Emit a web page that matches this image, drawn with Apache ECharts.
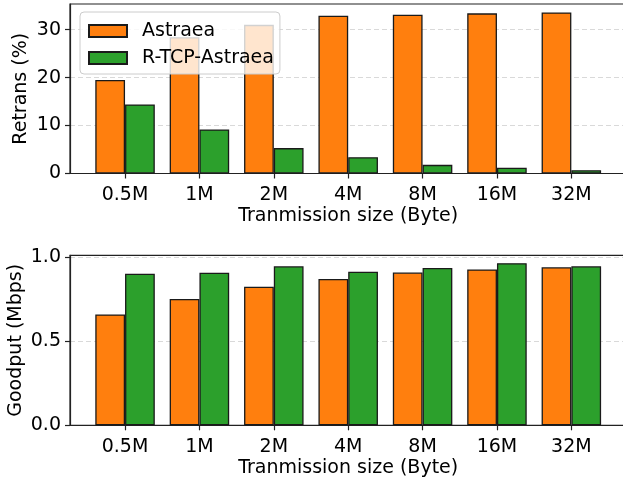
<!DOCTYPE html>
<html>
<head>
<meta charset="utf-8">
<script src="https://cdn.jsdelivr.net/npm/echarts@6/dist/echarts.min.js"></script>
<style>
html,body{margin:0;padding:0;background:#fff;}
#chart{width:623px;height:482px;}
</style>
</head>
<body>
<div id="chart"></div>
<script>
const categories = ['0.5M', '1M', '2M', '4M', '8M', '16M', '32M'];
const seriesNames = ['Astraea', 'R-TCP-Astraea'];
const retransAstraea = [19.5, 28.4, 31.0, 32.9, 33.1, 33.4, 33.6];
const retransRTCP = [14.4, 9.2, 5.3, 3.4, 1.8, 1.2, 0.7];
const goodputAstraea = [0.658, 0.750, 0.823, 0.869, 0.907, 0.925, 0.938];
const goodputRTCP = [0.900, 0.905, 0.944, 0.911, 0.934, 0.962, 0.944];
const retransTicks = [0, 10, 20, 30];
const goodputTicks = [0, 0.5, 1.0];
const xTitle = 'Tranmission size (Byte)';
const yTitleTop = 'Retrans (%)';
const yTitleBottom = 'Goodput (Mbps)';

const FONT = 'DejaVu Sans';
const FS = 19;
const colors = ['#ff7f0e', '#2ca02c'];
const idx = categories.map((_, i) => i);
const xMin = -0.74, xMax = categories.length - 1 + 0.74;
const gridLeft = 70, gridWidth = 556.4;
const unitPx = gridWidth / (xMax - xMin);
const barW = 0.4 * unitPx;

function xAxis(gridIndex) {
  return {
    type: 'value', gridIndex, min: xMin, max: xMax,
    name: xTitle, nameLocation: 'middle', nameGap: 33, nameMoveOverlap: false,
    nameTextStyle: { fontFamily: FONT, fontSize: FS, color: '#000' },
    axisLine: { show: true, onZero: false, lineStyle: { color: '#222', width: 1.2 } },
    axisTick: { show: true, customValues: idx, length: 5, lineStyle: { color: '#222', width: 1.2 } },
    axisLabel: { customValues: idx, margin: 12, fontFamily: FONT, fontSize: FS, color: '#000',
      formatter: v => categories[Math.round(v)] },
    splitLine: { show: false }
  };
}
function yAxis(gridIndex, max, ticks, name, gap, fmt) {
  return {
    type: 'value', gridIndex, min: 0, max,
    name, nameLocation: 'middle', nameGap: gap, nameMoveOverlap: false,
    nameTextStyle: { fontFamily: FONT, fontSize: FS, color: '#000' },
    axisLine: { show: true, onZero: false, lineStyle: { color: '#222', width: 1.2 } },
    axisTick: { show: true, customValues: ticks, length: 5, lineStyle: { color: '#222', width: 1.2 } },
    axisLabel: { customValues: ticks, margin: 9, fontFamily: FONT, fontSize: FS, color: '#000', formatter: fmt },
    splitLine: { show: true, lineStyle: { color: '#d9d9d9', type: [5, 3], width: 1 } }
  };
}
function bars(name, data, color, gi) {
  return {
    type: 'bar', name, xAxisIndex: gi, yAxisIndex: gi,
    data: data.map((v, i) => [i, v]),
    barWidth: barW, barGap: '0%',
    itemStyle: { color, borderColor: '#1a1a1a', borderWidth: 1.3 },
    emphasis: { disabled: true }, animation: false
  };
}

const chart = echarts.init(document.getElementById('chart'), null, { renderer: 'canvas' });
chart.setOption({
  animation: false,
  backgroundColor: '#fff',
  grid: [
    { left: gridLeft, top: 4, width: gridWidth, height: 169.5, show: true, borderColor: '#222', borderWidth: 1.2, backgroundColor: 'transparent', containLabel: false, outerBoundsMode: 'none' },
    { left: gridLeft, top: 255.3, width: gridWidth, height: 170, show: true, borderColor: '#222', borderWidth: 1.2, backgroundColor: 'transparent', containLabel: false, outerBoundsMode: 'none' }
  ],
  legend: {
    data: seriesNames, orient: 'vertical', left: 80, top: 12,
    padding: [8, 6, 5, 8], itemGap: 5, itemWidth: 38, itemHeight: 12,
    icon: 'rect',
    backgroundColor: 'rgba(255,255,255,0.8)', borderColor: '#cccccc', borderWidth: 1, borderRadius: 4,
    textStyle: { fontFamily: FONT, fontSize: FS, color: '#000', lineHeight: 22, padding: [0, 0, 0, 10] },
    selectedMode: false
  },
  xAxis: [xAxis(0), xAxis(1)],
  yAxis: [
    yAxis(0, 35.35, retransTicks, yTitleTop, 39, v => String(v)),
    yAxis(1, 1.009, goodputTicks, yTitleBottom, 44, v => v.toFixed(1))
  ],
  series: [
    bars(seriesNames[0], retransAstraea, colors[0], 0),
    bars(seriesNames[1], retransRTCP, colors[1], 0),
    bars(seriesNames[0], goodputAstraea, colors[0], 1),
    bars(seriesNames[1], goodputRTCP, colors[1], 1)
  ]
});
</script>
</body>
</html>
